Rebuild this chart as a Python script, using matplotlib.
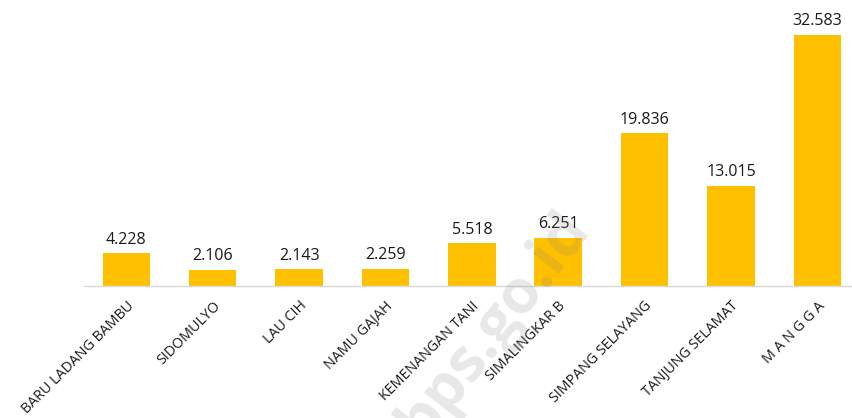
import matplotlib.pyplot as plt

desa = ["BARU LADANG BAMBU", "SIDOMULYO", "LAU CIH", "NAMU GAJAH",
        "KEMENANGAN TANI", "SIMALINGKAR B", "SIMPANG SELAYANG",
        "TANJUNG SELAMAT", "M A N G G A"]
nilai = [4.228, 2.106, 2.143, 2.259, 5.518, 6.251, 19.836, 13.015, 32.583]
label_nilai = ["4.228", "2.106", "2.143", "2.259", "5.518", "6.251",
               "19.836", "13.015", "32.583"]

plt.rcParams["font.family"] = ["Open Sans", "DejaVu Sans"]

fig = plt.figure(figsize=(8.52, 4.18), dpi=100)
ax = fig.add_axes([84 / 852, (418 - 286) / 418, 1 - 84 / 852 + 0.01, 286 / 418])

x = range(len(desa))
bars = ax.bar(x, nilai, width=0.55, color="#FFC000", zorder=2)
for b, t in zip(bars, label_nilai):
    ax.annotate(t, (b.get_x() + b.get_width() / 2, b.get_height()),
                xytext=(0, 4), textcoords="offset points",
                ha="center", va="bottom", fontsize=11.5, color="#1a1a1a")

ax.set_xlim(-0.49, 8.5)
ax.set_ylim(0, 37.1)
ax.set_xticks(list(x))
ax.set_xticklabels(desa, rotation=45, ha="right", rotation_mode="anchor",
                   fontsize=10.3, color="#1a1a1a")
ax.tick_params(axis="x", length=0, pad=9)
ax.set_yticks([])
for s in ["top", "right", "left"]:
    ax.spines[s].set_visible(False)
ax.spines["bottom"].set_color("#D9D9D9")
ax.spines["bottom"].set_linewidth(1)

# watermark
fig.text(0.58, 0.22, "bps.go.id", fontsize=44, fontweight="bold",
         color="#808080", alpha=0.18, rotation=52, ha="center", va="center")

fig.savefig("out.png", dpi=100)
